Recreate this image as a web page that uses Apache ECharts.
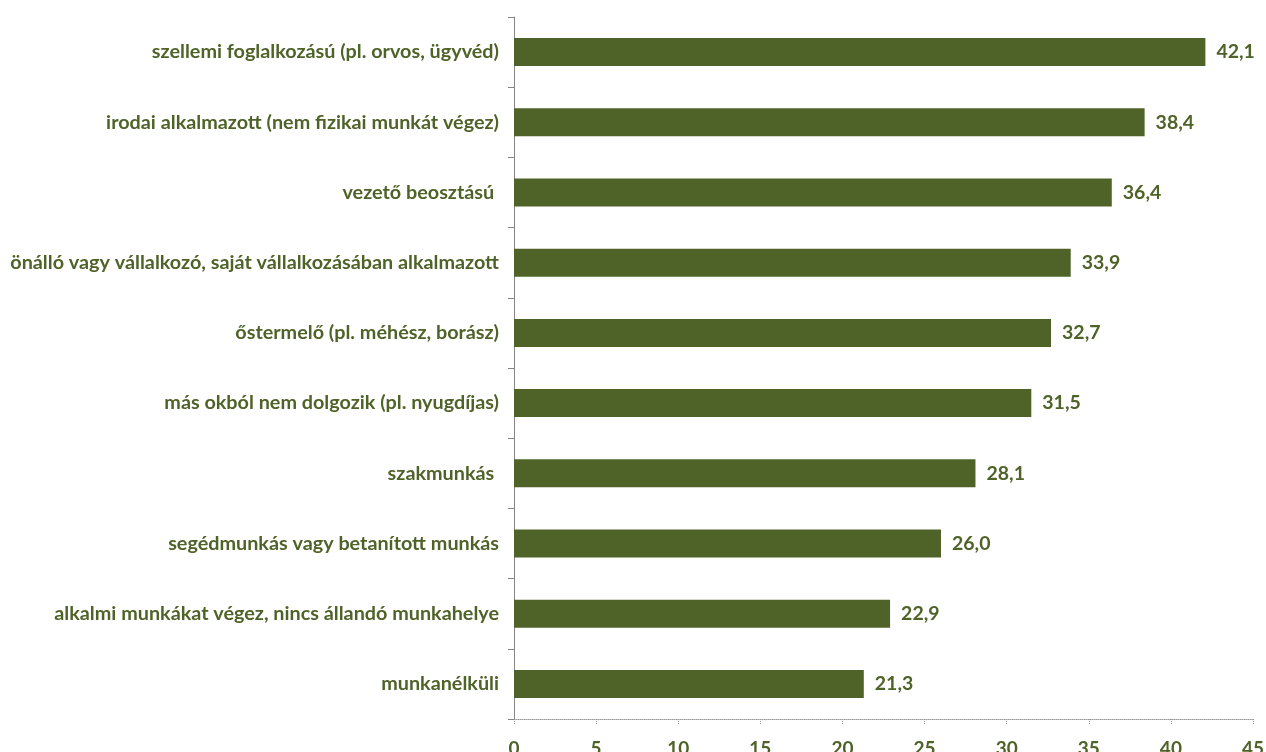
<!DOCTYPE html>
<html><head><meta charset="utf-8">
<script src="https://cdn.jsdelivr.net/npm/echarts@6/dist/echarts.min.js"></script>
<style>html,body{margin:0;padding:0;background:#fff}#c{width:1266px;height:752px}</style>
</head><body><div id="c"></div>
<script>
const categories = [
  "szellemi foglalkozású (pl. orvos, ügyvéd)",
  "irodai alkalmazott (nem fizikai munkát végez)",
  "vezető beosztású ",
  "önálló vagy vállalkozó, saját vállalkozásában alkalmazott",
  "őstermelő (pl. méhész, borász)",
  "más okból nem dolgozik (pl. nyugdíjas)",
  "szakmunkás ",
  "segédmunkás vagy betanított munkás",
  "alkalmi munkákat végez, nincs állandó munkahelye",
  "munkanélküli"
];
const values = [42.1, 38.4, 36.4, 33.9, 32.7, 31.5, 28.1, 26.0, 22.9, 21.3];
const xTicks = [0, 5, 10, 15, 20, 25, 30, 35, 40, 45];

const olive = '#4f6228';
const font = 'Lato';
const chart = echarts.init(document.getElementById('c'));
chart.setOption({
  animation: false,
  grid: { left: 514, right: 13, top: 17, bottom: 33, containLabel: false, outerBoundsMode: 'none' },
  xAxis: {
    type: 'value', min: xTicks[0], max: xTicks[xTicks.length - 1], interval: 5,
    axisLine: { show: true, lineStyle: { color: '#9a9a9a', type: 'dotted', width: 1 } },
    axisTick: { show: true, length: 5, lineStyle: { color: '#9a9a9a', type: 'dotted' } },
    splitLine: { show: false },
    axisLabel: { color: olive, fontFamily: font, fontWeight: 'bold', fontSize: 19, margin: 20,
      formatter: v => String(v) }
  },
  yAxis: {
    type: 'category', data: categories, inverse: true,
    axisLine: { show: true, lineStyle: { color: '#868686', width: 1 } },
    axisTick: { show: true, length: 6, inside: false, alignWithLabel: false, lineStyle: { color: '#868686' } },
    axisLabel: { color: olive, fontFamily: font, fontWeight: 'bold', fontSize: 19.8, margin: 15 }
  },
  series: [{
    type: 'bar', data: values, barWidth: 28,
    itemStyle: { color: olive },
    label: { show: true, position: 'right', distance: 11, color: olive, fontFamily: font,
      fontWeight: 'bold', fontSize: 19.5, formatter: p => p.value.toFixed(1).replace('.', ',') }
  }]
});
</script></body></html>
